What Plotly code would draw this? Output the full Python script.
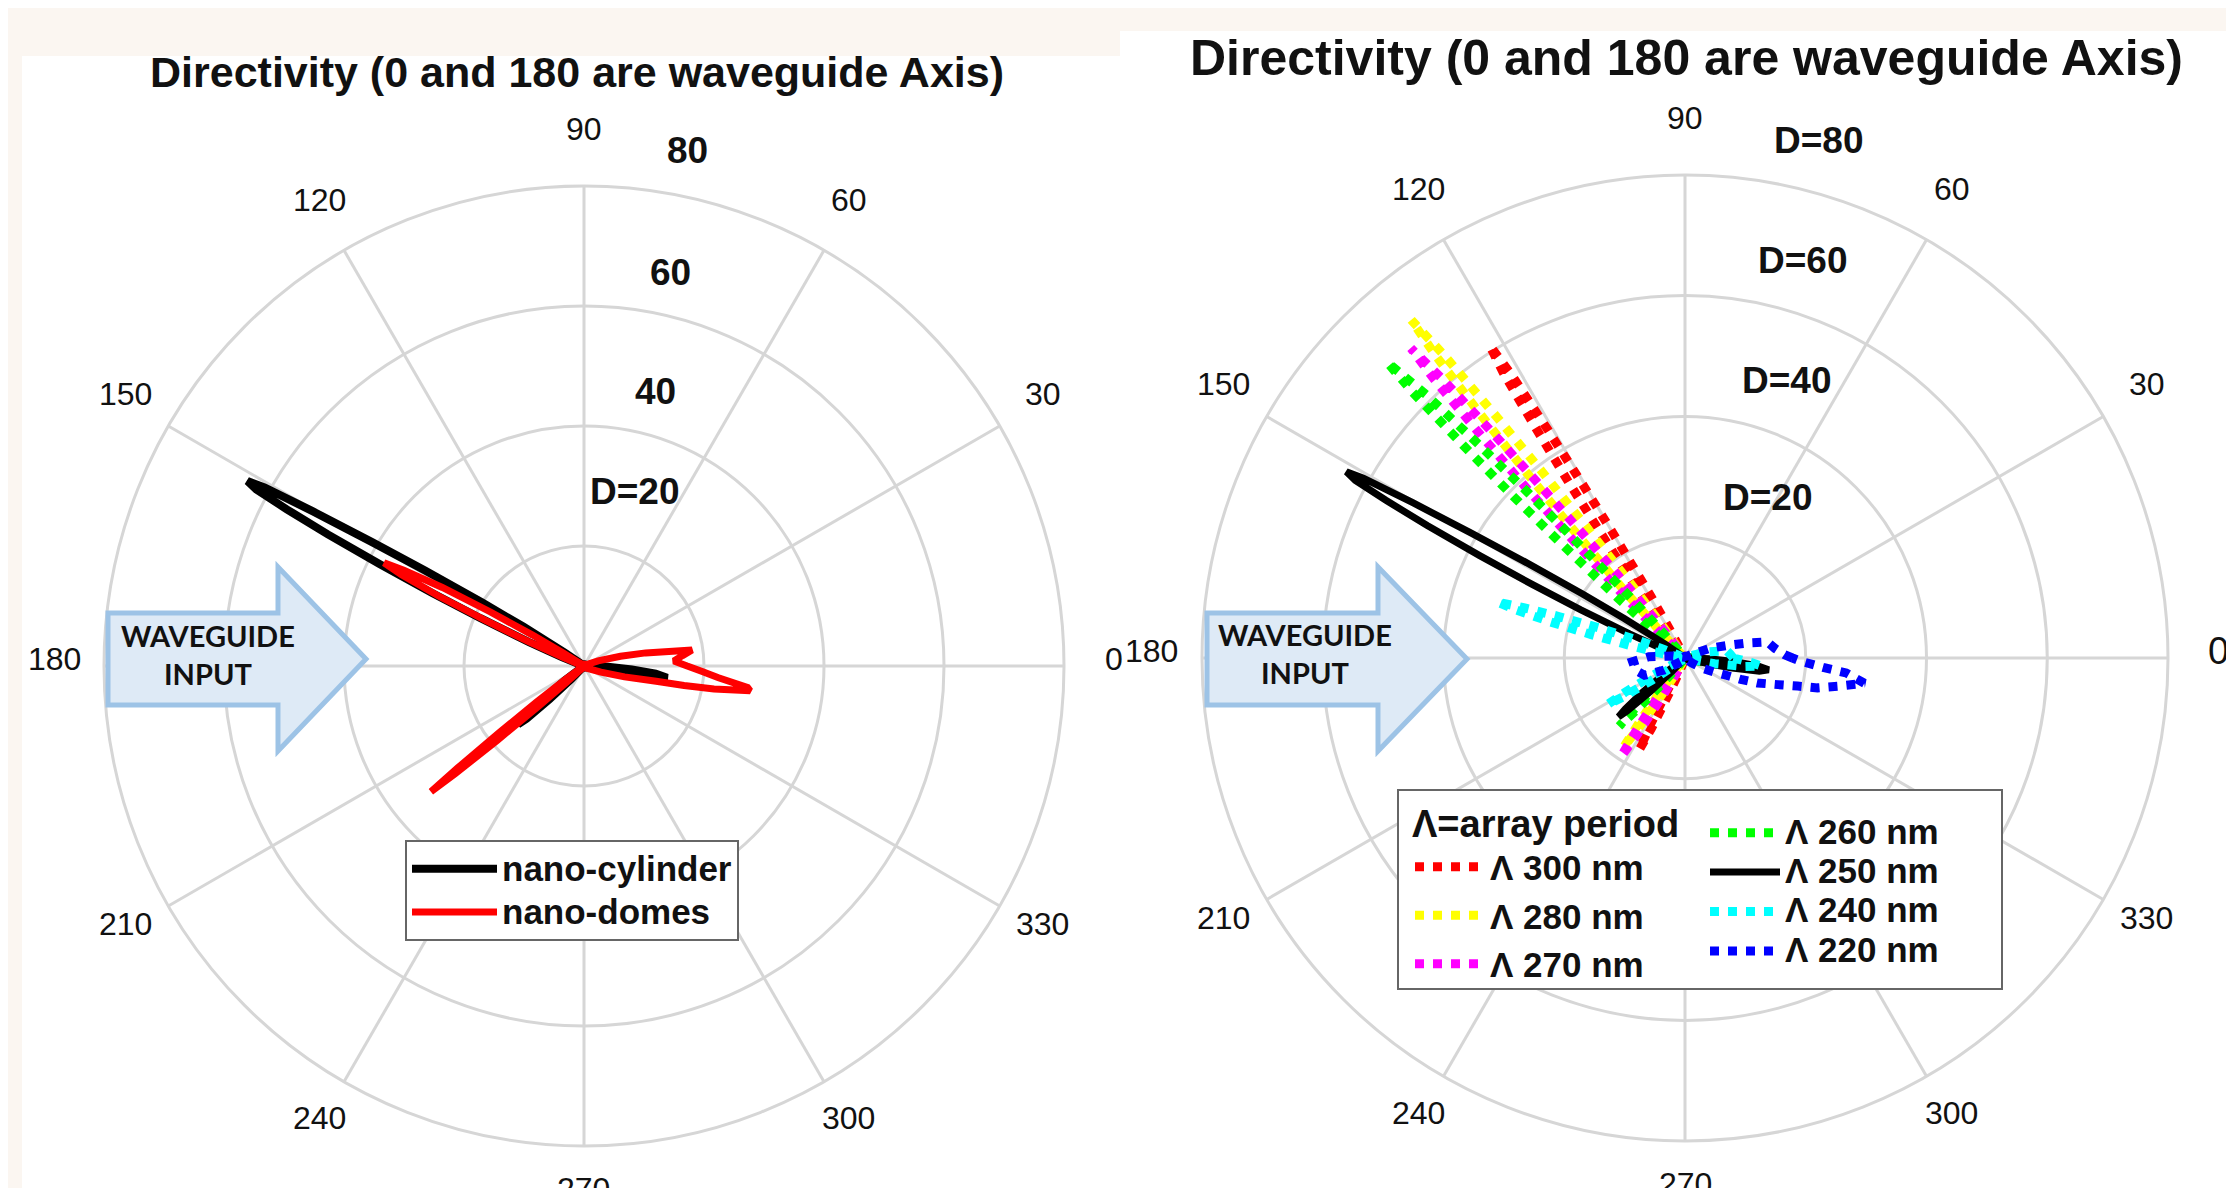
import math
import plotly.graph_objects as go

W, H = 2234, 1188

# ---------------- data ----------------
angle_ticks = [0, 30, 60, 90, 120, 150, 180, 210, 240, 270, 300, 330]
angle_labels = [str(a) for a in angle_ticks]
radial_ticks = [20, 40, 60, 80]
left_radial_labels = ["D=20", "40", "60", "80"]
right_radial_labels = ["D=20", "D=40", "D=60", "D=80"]
title_text = "Directivity (0 and 180 are waveguide Axis)"

# nano-cylinder (also the 250 nm array)
cyl_theta = [0, 5, 20, 60, 100, 140, 145, 147, 148, 149, 149.7, 150.3, 150.8, 151.2, 151.7, 152.2,
             152.8, 153.5, 154.3, 155.2, 156.5, 158, 162, 185, 214, 217, 219, 220.5, 221.5, 222.5,
             224, 226, 230, 260, 300, 330, 343, 346, 348, 350, 352, 354, 356, 358, 360]
cyl_d = [1.5, 0.5, 0.4, 0.3, 0.3, 0.5, 4, 12, 20, 31, 41, 52, 61, 64, 62, 56,
         48, 38, 28, 19, 10, 4, 0.5, 0.5, 0.5, 4, 9, 13, 14.7, 13,
         8, 3, 0.5, 0.3, 0.3, 0.5, 1, 4, 8, 12.5, 14, 12, 8, 4, 1.5]

# nano-domes
dome_theta = [0, 3.2, 6, 8.4, 9.5, 12, 15, 20, 30, 90, 130, 146, 148, 149, 150, 151, 152, 152.7,
              153.4, 154.3, 155.2, 156.3, 157.5, 160, 190, 214, 216, 217.3, 218.2, 218.9, 219.4,
              219.9, 220.6, 221.5, 223, 226, 250, 300, 330, 340, 345, 348, 349, 350, 351.5, 352.5,
              355, 357.5, 360]
dome_d = [17.2, 15, 16.5, 18.2, 15, 10.5, 6.3, 2.5, 0.5, 0.3, 0.4, 1, 4, 10, 18, 27, 34, 37.5,
          34, 27, 18, 10, 4, 1, 0.4, 1, 4, 10, 18, 27, 33,
          28, 19, 10, 4, 1, 0.3, 0.3, 1, 3, 7, 12.3, 17, 22, 28, 27.5,
          22.5, 19.5, 17.2]

# array periods
p300_theta = [0, 5, 20, 60, 100, 116, 118, 119, 120, 120.5, 121, 121.5, 122, 122.5, 123, 123.5, 124,
              125, 126, 128, 150, 200, 238, 240, 241.5, 242.5, 243.5, 244.5, 246, 248, 250, 290, 330,
              345, 350, 355, 360]
p300_d = [1, 0.4, 0.3, 0.3, 0.3, 0.6, 5, 12, 24, 33, 44, 55, 61, 56, 45, 35, 25,
          13, 5, 0.6, 0.3, 0.3, 0.3, 2, 6, 12, 17, 13, 6, 2, 0.3, 0.3, 0.5,
          1, 4, 2.5, 1]

p280_theta = [0, 10, 60, 100, 123, 125, 126, 127, 127.5, 128, 128.5, 129, 129.5, 130, 130.5, 131,
              132, 133, 135, 160, 200, 230, 232, 233.5, 234.5, 235.5, 236.5, 238, 240, 242, 290, 330,
              345, 350, 355, 360]
p280_d = [1, 0.4, 0.3, 0.3, 0.7, 6, 14, 28, 39, 51, 64, 72, 65, 53, 41, 30,
          15, 6, 0.7, 0.3, 0.3, 0.3, 2, 6.5, 12.5, 18, 13.5, 6.5, 2, 0.3, 0.3, 0.5,
          1, 3, 2, 1]

p270_theta = [0, 10, 60, 100, 125.5, 127.5, 128.5, 129.5, 130, 130.5, 131, 131.5, 132, 132.5, 133,
              133.5, 134.5, 135.5, 137.5, 160, 200, 231.5, 233.5, 235, 236, 237, 238, 239.5, 241.5,
              243.5, 290, 330, 345, 350, 355, 360]
p270_d = [1, 0.4, 0.3, 0.3, 0.7, 5.5, 13.5, 27, 37, 49, 61, 68.5, 62, 50, 39,
          28, 14, 5.5, 0.7, 0.3, 0.3, 0.3, 2.3, 7, 14, 19.5, 15, 7.5, 2.3,
          0.3, 0.3, 0.5, 1, 3, 2, 1]

p260_theta = [0, 10, 60, 100, 129, 131, 132, 133, 133.5, 134, 134.5, 135.2, 135.7, 136.2, 136.7,
              137.2, 138.2, 139.2, 141, 170, 200, 220.5, 222.5, 224, 225, 226, 227, 228.5, 230.5,
              232.5, 290, 330, 345, 348, 351, 354, 357, 360]
p260_d = [1.5, 0.4, 0.3, 0.3, 0.7, 5.5, 13.5, 27, 37.5, 49, 61, 69.5, 63, 51, 40,
          29, 15, 6, 0.7, 0.3, 0.3, 0.3, 2, 6, 11, 15.7, 12, 6, 2,
          0.3, 0.3, 0.5, 1, 4, 8, 6, 2, 1.5]

p240_theta = [0, 5, 10, 15, 22, 60, 120, 155, 158, 159.5, 160.7, 161.8, 162.7, 163.4, 164.1, 165,
              166, 167.3, 169, 172, 190, 205, 207, 208.5, 209.8, 211, 212.2, 213.8, 215.5, 218,
              270, 330, 345, 349, 352, 354, 356, 360]
p240_d = [8, 7.5, 7, 4, 1, 0.3, 0.3, 0.5, 4, 9, 15, 22, 28, 32.5, 29, 23,
          16, 9, 4, 0.5, 0.3, 0.3, 2.5, 6.5, 11.5, 15, 12, 6.5, 2.5, 0.3,
          0.3, 0.5, 1, 5, 10, 12.7, 11, 8]

p220_theta = [0, 1.9, 6, 11, 13.5, 16, 21, 28, 40, 90, 150, 170, 178, 184, 190, 197, 203, 210, 220,
              260, 310, 325, 330, 334, 337, 339, 341, 344, 346, 347.3, 349.5, 352, 354.7, 356,
              358.4, 360]
p220_d = [17.8, 16.5, 15, 13.9, 10.7, 7.9, 4.6, 1.5, 0.5, 0.3, 0.3, 2, 6, 8.7, 8.5, 8, 7.3, 4, 1,
          0.3, 0.3, 1.5, 3.5, 5.2, 7.1, 9.9, 12.7, 16, 19.2, 22.5, 25.7, 30, 26.8, 23.1,
          19.2, 17.8]

# ---------------- styling ----------------
FONT = "Liberation Sans, Arial, Helvetica, sans-serif"
GRID = "#d6d6d6"
CREAM = "#fbf6f1"
LEFT_C, LEFT_R = (576, 658), 480
RIGHT_C, RIGHT_R = (1677, 650), 483
BIG = "<span style='font-size:35px'>%s</span>"


def px(x, y):
    return x / W, 1 - y / H


fig = go.Figure()

# left chart
fig.add_trace(go.Scatterpolar(r=cyl_d, theta=cyl_theta, mode="lines", name=BIG % "nano-cylinder",
                              line=dict(color="black", width=8), subplot="polar", legend="legend"))
fig.add_trace(go.Scatterpolar(r=dome_d, theta=dome_theta, mode="lines", name=BIG % "nano-domes",
                              line=dict(color="#ff0000", width=7), subplot="polar", legend="legend"))

# right chart
DOT = "9px,9px"
series = [
    ("Λ 300 nm", p300_theta, p300_d, "#ff0000", DOT, "legend2", 2),
    ("Λ 280 nm", p280_theta, p280_d, "#ffff00", DOT, "legend2", 3),
    ("Λ 270 nm", p270_theta, p270_d, "#ff00ff", DOT, "legend2", 4),
    (BIG % "Λ 260 nm", p260_theta, p260_d, "#00ff00", DOT, "legend3", 1),
    (BIG % "Λ 250 nm", cyl_theta, cyl_d, "black", "solid", "legend3", 2),
    (BIG % "Λ 240 nm", p240_theta, p240_d, "#00ffff", DOT, "legend3", 3),
    (BIG % "Λ 220 nm", p220_theta, p220_d, "#0000ff", DOT, "legend3", 4),
]
for name, th, dd, col, dash, leg, rank in series:
    fig.add_trace(go.Scatterpolar(r=dd, theta=th, mode="lines", name=name,
                                  line=dict(color=col, width=9 if dash != "solid" else 7, dash=dash),
                                  subplot="polar2", legend=leg, legendrank=rank))


def polar_layout(c, R):
    cx, cy = c
    x0, x1 = (cx - R) / W, (cx + R) / W
    y0, y1 = 1 - (cy + R) / H, 1 - (cy - R) / H
    return dict(
        domain=dict(x=[x0, x1], y=[y0, y1]),
        bgcolor="white",
        radialaxis=dict(range=[0, 80], tickvals=radial_ticks, showticklabels=False, ticks="",
                        showline=False, gridcolor=GRID, gridwidth=3),
        angularaxis=dict(rotation=0, direction="counterclockwise", tickmode="array",
                         tickvals=angle_ticks, showticklabels=False, showline=True, linecolor=GRID,
                         linewidth=3, gridcolor=GRID, gridwidth=3, ticks=""),
    )


shapes = []
# panels
shapes.append(dict(type="rect", xref="paper", yref="paper", x0=14 / W, x1=1112 / W, y0=0, y1=1 - 48 / H,
                   fillcolor="white", line=dict(width=0), layer="below"))
shapes.append(dict(type="rect", xref="paper", yref="paper", x0=1112 / W, x1=1, y0=0, y1=1 - 23 / H,
                   fillcolor="white", line=dict(width=0), layer="below"))


def arrow(x0, xh, xt, yc):
    pts = [(x0, yc - 46), (xh, yc - 46), (xh, yc - 92), (xt, yc), (xh, yc + 92), (xh, yc + 46), (x0, yc + 46)]
    path = "M " + " L ".join("%.5f,%.5f" % px(a, b) for a, b in pts) + " Z"
    return dict(type="path", xref="paper", yref="paper", path=path, fillcolor="#deeaf6",
                line=dict(color="#9dc3e6", width=5), layer="above")


shapes.append(arrow(100, 270, 358, 651))
shapes.append(arrow(1199, 1370, 1459, 651))
# right legend frame
shapes.append(dict(type="rect", xref="paper", yref="paper", x0=1390 / W, x1=1994 / W,
                   y0=1 - 981 / H, y1=1 - 782 / H, fillcolor="white",
                   line=dict(color="#666666", width=2), layer="above"))

annotations = []


def text_at(x, y, text, size, bold=True, family=FONT):
    ax, ay = px(x, y)
    annotations.append(dict(x=ax, y=ay, xref="paper", yref="paper", text=text, showarrow=False,
                            xanchor="center", yanchor="middle",
                            font=dict(family=family, size=size, color="#111",
                                      weight="bold" if bold else "normal")))


# angular tick labels, centred just outside each chart's outer ring
for (cx, cy), R, big_zero in [(LEFT_C, LEFT_R, False), (RIGHT_C, RIGHT_R, True)]:
    for a, lab in zip(angle_ticks, angle_labels):
        rr = 1.104 * R
        x = cx + rr * math.cos(math.radians(a))
        y = cy - rr * math.sin(math.radians(a)) - 7
        size = 38 if (big_zero and a == 0) else 32
        text_at(x, y, lab, size, bold=False)

text_at(569, 64, title_text, 43)
text_at(1678, 50, title_text, 50)
for lab, (x, y) in zip(left_radial_labels, [(626, 483), (647, 383), (662, 264), (679, 143)]):
    text_at(x, y, lab, 37)
for lab, (x, y) in zip(right_radial_labels, [(1759, 490), (1778, 372), (1794, 252), (1810, 133)]):
    text_at(x, y, lab, 37)
text_at(200, 646, "WAVEGUIDE<br>INPUT", 29, bold=True, family="Lato, Open Sans, sans-serif")
text_at(1297, 645, "WAVEGUIDE<br>INPUT", 29, bold=True, family="Lato, Open Sans, sans-serif")

legfont = dict(family=FONT, size=35, color="#111", weight="bold")
fig.update_layout(
    width=W, height=H, margin=dict(l=0, r=0, t=0, b=0),
    paper_bgcolor=CREAM, plot_bgcolor="white",
    polar=polar_layout(LEFT_C, LEFT_R),
    polar2=polar_layout(RIGHT_C, RIGHT_R),
    shapes=shapes, annotations=annotations,
    legend=dict(x=397 / W, y=1 - 832 / H, xanchor="left", yanchor="top", bgcolor="white",
                bordercolor="#666666", borderwidth=2,
                font=dict(family=FONT, size=31, color="#111", weight="bold"), itemwidth=85,
                entrywidth=290, entrywidthmode="pixels"),
    legend2=dict(x=1402 / W, y=1 - 780 / H, xanchor="left", yanchor="top", bgcolor="rgba(0,0,0,0)",
                 borderwidth=0, font=legfont, itemwidth=70,
                 title=dict(text="Λ=array period", side="top",
                            font=dict(family=FONT, size=38, color="#111", weight="bold"))),
    legend3=dict(x=1697 / W, y=1 - 800 / H, xanchor="left", yanchor="top", bgcolor="rgba(0,0,0,0)",
                 borderwidth=0, font=dict(family=FONT, size=28, color="#111", weight="bold"),
                 itemwidth=70),
)

fig.write_html("out.html")
